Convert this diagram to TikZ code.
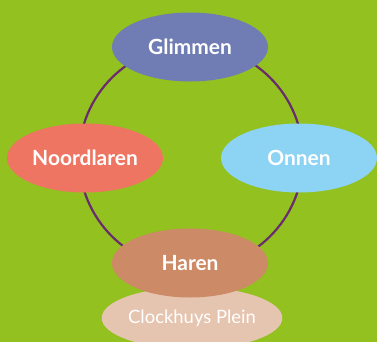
\documentclass[tikz,border=0pt]{standalone}
\usepackage{fontspec}
\setmainfont{Lato}
\usetikzlibrary{shapes.geometric}
\definecolor{lawn}{HTML}{93C11F}
\definecolor{ringc}{HTML}{6A2C6E}
\definecolor{glimc}{HTML}{6F7DB4}
\definecolor{noordc}{HTML}{EE7562}
\definecolor{onnenc}{HTML}{8CD3F4}
\definecolor{harenc}{HTML}{CC8A66}
\definecolor{plainc}{HTML}{E6C5B0}
\newcommand{\town}[1]{\fontsize{21}{24}\selectfont\bfseries #1}

\begin{document}
\begin{tikzpicture}[x=1bp, y=-1bp,
  place/.style={ellipse, inner sep=0pt, minimum width=156bp, minimum height=69bp, text=white}]
  \fill[lawn] (0,0) rectangle (377,342);
  \clip (0,0) rectangle (377,342);
  \coordinate (hub) at (191,157);
  \draw[ringc, line width=2.2bp] (hub) circle (112bp);
  \node[place, fill=glimc] (glimmen) at (190,47) {\town{Glimmen}};
  \node[place, fill=noordc] (noordlaren) at (85,158) {\town{Noordlaren}};
  \node[place, fill=onnenc] (onnen) at (299,158) {\town{Onnen}};
  \node[place, fill=plainc, minimum width=178bp, minimum height=62bp] (plein) at (192,318)
    {\fontsize{18.5}{22}\selectfont Clockhuys Plein};
  \node[place, fill=harenc] (haren) at (190,263) {\town{Haren}};
\end{tikzpicture}
\end{document}
